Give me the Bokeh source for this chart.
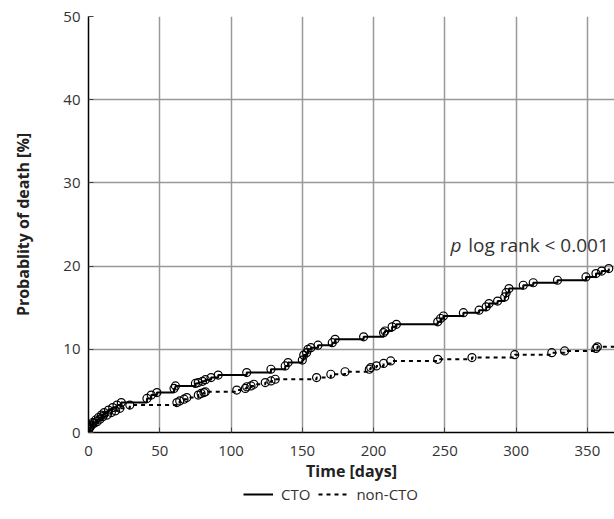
from bokeh.plotting import figure
from bokeh.models import Range1d, Legend, LegendItem, Label, FixedTicker
from bokeh.layouts import column
from bokeh.embed import file_html
from bokeh.resources import INLINE

# CTO group: event times (days) and cumulative probability of death (%)
cto_t = [0, 1, 2, 3, 5, 7, 9, 11, 14, 17, 20, 23, 41, 44, 48, 60, 61, 75, 77, 80, 82, 86, 91,
         111, 128, 138, 140, 150, 151, 153, 154, 156, 161, 171, 173, 193, 207, 208, 213, 216,
         245, 247, 249, 263, 274, 279, 281, 287, 292, 293, 295, 305, 312, 329, 349, 356, 360, 365]
cto_v = [0.3, 0.6, 0.9, 1.2, 1.5, 1.8, 2.1, 2.4, 2.7, 3.0, 3.3, 3.6, 4.1, 4.5, 4.8, 5.3, 5.6,
         5.9, 6.0, 6.15, 6.35, 6.6, 6.9, 7.2, 7.6, 8.0, 8.4, 8.7, 9.3, 9.6, 10.0, 10.2, 10.5,
         10.8, 11.2, 11.5, 12.0, 12.2, 12.7, 13.0, 13.3, 13.7, 14.0, 14.4, 14.7, 15.1, 15.5,
         15.8, 16.3, 16.8, 17.3, 17.7, 18.0, 18.3, 18.7, 19.1, 19.4, 19.7]

# non-CTO group
non_t = [0, 1, 2, 4, 6, 8, 10, 13, 16, 19, 22, 29, 62, 64, 67, 69, 77, 79, 81, 82, 104, 110,
         111, 114, 116, 124, 128, 131, 160, 170, 180, 197, 198, 202, 207, 212, 245, 269, 299,
         325, 334, 356, 357]
non_v = [0.4, 0.7, 0.9, 1.1, 1.3, 1.6, 1.9, 2.1, 2.4, 2.6, 2.9, 3.3, 3.6, 3.8, 4.0, 4.2, 4.5,
         4.7, 4.8, 4.9, 5.1, 5.3, 5.5, 5.6, 5.8, 6.0, 6.2, 6.4, 6.6, 7.0, 7.3, 7.6, 7.8, 8.0,
         8.3, 8.6, 8.8, 9.0, 9.35, 9.6, 9.8, 10.1, 10.3]

x_ticks = [0, 50, 100, 150, 200, 250, 300, 350]
y_ticks = [0, 10, 20, 30, 40, 50]
x_end = 369
series_labels = ["CTO", "non-CTO"]

FONT = "Open Sans"
TXT = "#333333"

p = figure(width=614, height=484, x_range=Range1d(0, x_end), y_range=Range1d(0, 50),
           output_backend="svg", toolbar_location=None,
           min_border_left=88, min_border_right=0, min_border_top=16, min_border_bottom=51)
p.outline_line_color = None
p.background_fill_color = "white"

for ax in (p.xaxis[0], p.yaxis[0]):
    ax.major_label_text_font = FONT
    ax.major_label_text_font_size = "15px"
    ax.major_label_text_color = TXT
    ax.axis_label_text_font = FONT
    ax.axis_label_text_font_size = "16px"
    ax.axis_label_text_font_style = "bold"
    ax.axis_label_text_color = "#222222"
    ax.axis_line_color = "black"
    ax.axis_line_width = 1.5
    ax.major_tick_in = 5
    ax.major_tick_out = 0
    ax.major_tick_line_color = "#444444"
    ax.minor_tick_line_color = None

p.xaxis.ticker = FixedTicker(ticks=x_ticks)
p.yaxis.ticker = FixedTicker(ticks=y_ticks)
p.xaxis.axis_label = "Time [days]"
p.yaxis.axis_label = "Probablity of death [%]"
p.xaxis.major_label_standoff = 13
p.yaxis.major_label_standoff = 8
p.xaxis.axis_label_standoff = 1
p.yaxis.axis_label_standoff = 26

p.grid.grid_line_color = "#999999"
p.grid.grid_line_width = 1.5

st_x = [0] + cto_t
st_y = [0] + cto_v
p.step(st_x, st_y, mode="after", line_color="black", line_width=2)
p.scatter(cto_t, cto_v, size=8, fill_color=None, line_color="black", line_width=1.2)

sn_x = [0] + non_t + [x_end]
sn_y = [0] + non_v + [non_v[-1]]
p.step(sn_x, sn_y, mode="after", line_color="black", line_width=2, line_dash="4 4")
p.scatter(non_t, non_v, size=8, fill_color=None, line_color="black", line_width=1.2)

p.add_layout(Label(x=254, y=21.0, text="p", text_font=FONT, text_font_style="italic",
                   text_font_size="19px", text_color=TXT))
p.add_layout(Label(x=365, y=21.0, text="log rank < 0.001", text_font=FONT,
                   text_font_size="19px", text_color=TXT, text_align="right"))

# legend strip below the chart (proxy renderers lie outside the strip's visible range)
lg = figure(width=614, height=30, x_range=Range1d(0, 1), y_range=Range1d(0, 1),
            output_backend="svg", toolbar_location=None,
            min_border_left=0, min_border_right=0, min_border_top=0, min_border_bottom=0)
lg.axis.visible = False
lg.grid.visible = False
lg.outline_line_color = None
r1 = lg.line([-5, -4], [-5, -5], line_color="black", line_width=2)
r2 = lg.line([-5, -4], [-5, -5], line_color="black", line_width=2, line_dash="4 4")
legend = Legend(items=[LegendItem(label=series_labels[0], renderers=[r1]),
                       LegendItem(label=series_labels[1], renderers=[r2])],
                orientation="horizontal", location=(155, 10),
                border_line_color=None, background_fill_alpha=0,
                label_text_font=FONT, label_text_font_size="15px", label_text_color=TXT,
                glyph_width=30, label_standoff=8, spacing=8, padding=0, margin=0)
lg.add_layout(legend)

open("out.html", "w").write(file_html(column(p, lg, spacing=0), INLINE))
